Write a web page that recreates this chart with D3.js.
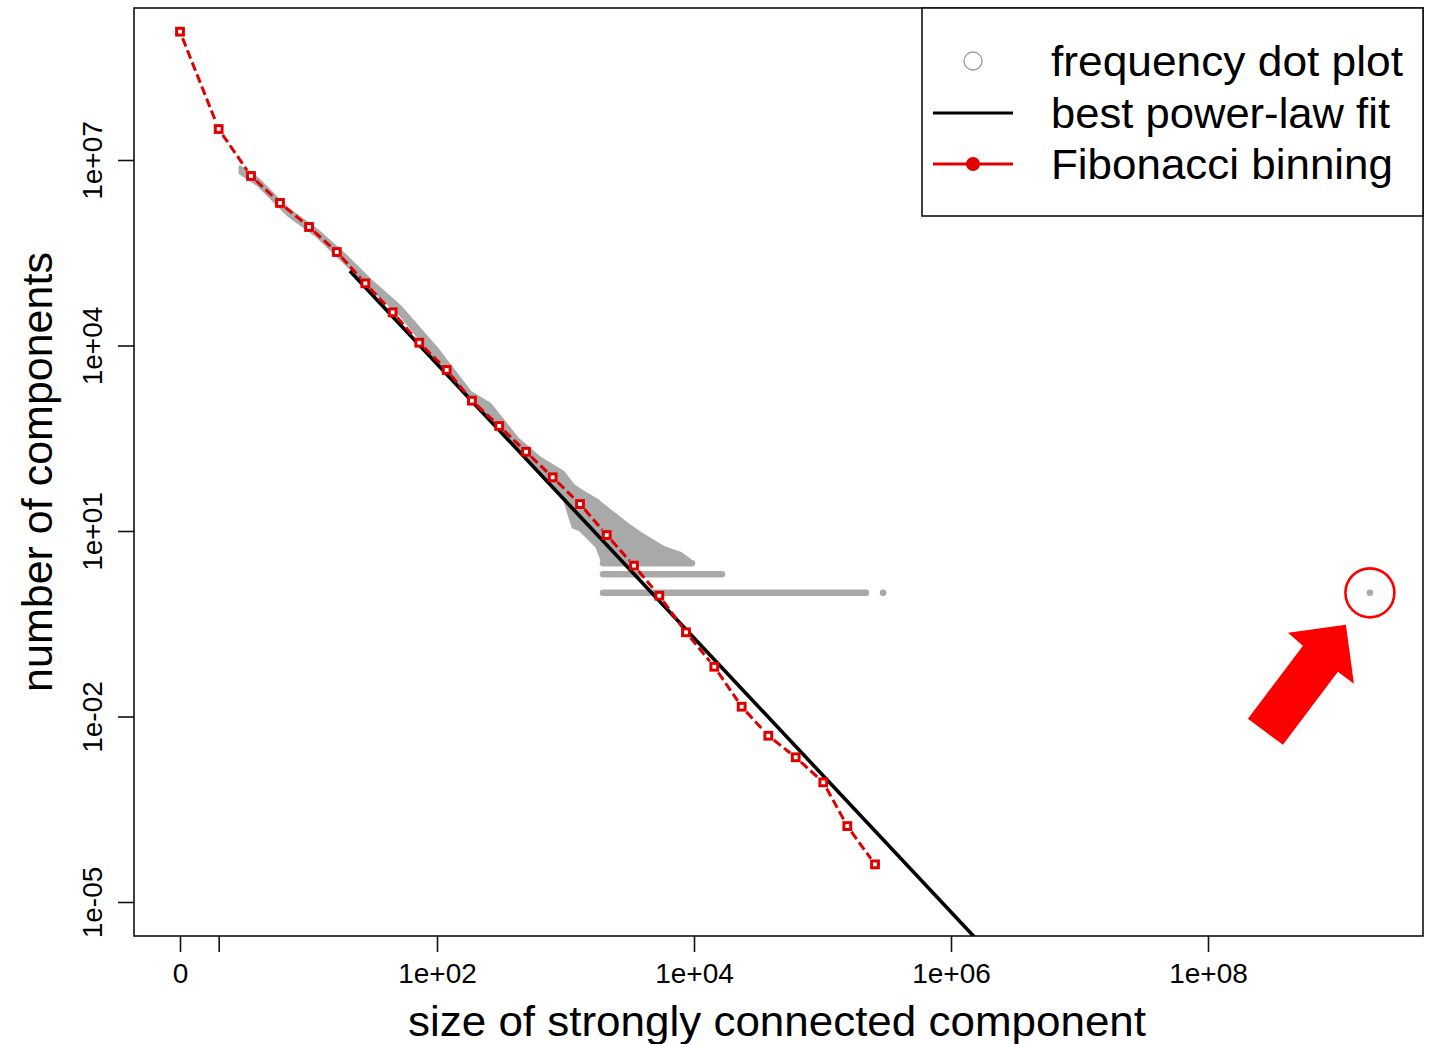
<!DOCTYPE html>
<html>
<head>
<meta charset="utf-8">
<script src="https://cdn.jsdelivr.net/npm/d3@7"></script>
<style>
  body { margin: 0; background: #fff; }
  svg { display: block; }
  text { font-family: "Liberation Sans", Arial, sans-serif; fill: #000; }
</style>
</head>
<body>
<div id="chart"></div>
<script>
// Fibonacci-binned counts (red squares)
const fibSizes = [1, 2, 3.57, 6.0, 10.1, 16.6, 27.7, 45.2, 72.8, 119, 187, 305, 493, 795, 1297,
  2093, 3412, 5370, 8664, 14390, 23500, 37870, 61850, 101400, 156000, 256200];
const fibCounts = [1.19e9, 3.17e7, 5.51e6, 2.02e6, 8.25e5, 3.25e5, 1.01e5, 3.44e4, 1.11e4, 4016, 1281,
  499, 191, 73.8, 27.3, 8.6, 2.75, 0.898, 0.230, 0.0638, 0.0144, 0.00489, 0.00219, 8.61e-4, 1.69e-4, 4.06e-5];

// frequency dot cloud: outline of the dense part (upper / lower edge per size)
const cloudSizes = [2.93, 4.05, 6.92, 11.6, 19.2, 30.1, 51.5, 100, 181, 258, 419, 634, 957, 1143, 1297,
  1758, 1958, 3177, 3802, 5737, 7780, 9310];
const cloudHigh = [7.71e6, 4.93e6, 1.61e6, 7.38e5, 2.91e5, 1.15e5, 4.30e4, 8900, 1770, 1132, 319, 151,
  89.9, 55.5, 46.0, 31.7, 26.3, 12.0, 9.27, 5.5, 4.4, 3.4];
const cloudLow = [6.17e6, 3.94e6, 1.29e6, 5.90e5, 2.16e5, 8.60e4, 3.20e4, 5800, 1313, 624, 220, 96.8,
  38.2, 11.6, 10.4, 5.51, 3, 3, 3, 3, 3, 3];

// horizontal runs of dots at small integer counts
const rowCounts = [1, 2, 3, 4];
const rowFrom = [1958, 1958, 1958, 2000];
const rowTo = [2.18e5, 16500, 9640, 7780];

// lone dots: [size, count]
const loneDots = [[2.96e5, 1], [1.82e9, 1]];
const giantIndex = 1;

// power-law fit
const fitXmin = 21, fitCountAtXmin = 1.6e5, fitAlpha = 2.216, fitXmax = 3e6;

// axes
const xTicks = [1, 2, 1e2, 1e4, 1e6, 1e8];
const xTickLabels = ["0", "", "1e+02", "1e+04", "1e+06", "1e+08"];
const yTicks = [1e7, 1e4, 1e1, 1e-2, 1e-5];
const yTickLabels = ["1e+07", "1e+04", "1e+01", "1e-02", "1e-05"];

const legendLabels = ["frequency dot plot", "best power-law fit", "Fibonacci binning"];
const legendWidths = [352, 339, 342];

const W = 1429, H = 1044;
const box = { left: 134, top: 8, right: 1423, bottom: 936 };
const grey = "#a9a9a9", red = "#e00000";

const svg = d3.select("#chart").append("svg").attr("width", W).attr("height", H);

const x = d3.scaleLog().domain([1, 1e8]).range([180, 1208]);
const y = d3.scaleLog().domain([1e7, 1e-5]).range([160, 902]);

svg.append("clipPath").attr("id", "plotclip").append("rect")
  .attr("x", box.left).attr("y", box.top)
  .attr("width", box.right - box.left).attr("height", box.bottom - box.top);

const plot = svg.append("g").attr("clip-path", "url(#plotclip)");

// grey dot cloud
const outline = cloudSizes.map((s, i) => [x(s), y(cloudHigh[i])])
  .concat(cloudSizes.map((s, i) => [x(s), y(cloudLow[i])]).reverse());
plot.append("path")
  .attr("d", d3.line()(outline) + "Z")
  .attr("fill", grey).attr("stroke", grey)
  .attr("stroke-width", 3).attr("stroke-linejoin", "round");

plot.selectAll(".row").data(rowCounts).enter().append("line")
  .attr("x1", (d, i) => x(rowFrom[i])).attr("x2", (d, i) => x(rowTo[i]))
  .attr("y1", d => y(d)).attr("y2", d => y(d))
  .attr("stroke", grey).attr("stroke-width", 6.5).attr("stroke-linecap", "round");

plot.selectAll(".lone").data(loneDots).enter().append("circle")
  .attr("cx", d => x(d[0])).attr("cy", d => y(d[1])).attr("r", 3.3).attr("fill", grey);

// power-law fit line
const fitX = [fitXmin, fitXmax];
plot.append("path")
  .attr("d", d3.line()(fitX.map(s => [x(s), y(fitCountAtXmin * Math.pow(s / fitXmin, -fitAlpha))])))
  .attr("stroke", "#000").attr("stroke-width", 3.6).attr("fill", "none");

// Fibonacci binning: dashed segments with gaps at the points (type "b")
const pts = fibSizes.map((s, i) => [x(s), y(fibCounts[i])]);
const gap = 7;
const segs = [];
for (let i = 0; i < pts.length - 1; i++) {
  const [x1, y1] = pts[i], [x2, y2] = pts[i + 1];
  const d = Math.hypot(x2 - x1, y2 - y1);
  if (d <= 2 * gap) continue;
  const ux = (x2 - x1) / d, uy = (y2 - y1) / d;
  segs.push([x1 + ux * gap, y1 + uy * gap, x2 - ux * gap, y2 - uy * gap]);
}
plot.selectAll(".seg").data(segs).enter().append("line")
  .attr("x1", d => d[0]).attr("y1", d => d[1]).attr("x2", d => d[2]).attr("y2", d => d[3])
  .attr("stroke", red).attr("stroke-width", 3).attr("stroke-dasharray", "9,4");

plot.selectAll(".sq").data(pts).enter().append("rect")
  .attr("x", d => d[0] - 3.4).attr("y", d => d[1] - 3.4)
  .attr("width", 6.8).attr("height", 6.8)
  .attr("fill", "#fff").attr("stroke", red).attr("stroke-width", 3);

// plot frame
svg.append("rect")
  .attr("x", box.left).attr("y", box.top)
  .attr("width", box.right - box.left).attr("height", box.bottom - box.top)
  .attr("fill", "none").attr("stroke", "#111").attr("stroke-width", 1.6);

// x axis
const xAxis = svg.append("g").attr("transform", `translate(0,${box.bottom})`)
  .call(d3.axisBottom(x).tickValues(xTicks).tickFormat((d, i) => xTickLabels[i])
    .tickSize(16).tickPadding(11));
xAxis.select(".domain").remove();
xAxis.selectAll(".tick line").attr("stroke", "#111").attr("stroke-width", 1.6);
xAxis.selectAll(".tick text").attr("font-size", 28).attr("fill", "#000")
  .style("font-family", "'Liberation Sans', Arial, sans-serif");

// y axis (labels rotated, R style)
const yAxis = svg.append("g").attr("transform", `translate(${box.left},0)`)
  .call(d3.axisLeft(y).tickValues(yTicks).tickFormat((d, i) => yTickLabels[i]).tickSize(16));
yAxis.select(".domain").remove();
yAxis.selectAll(".tick line").attr("stroke", "#111").attr("stroke-width", 1.6);
yAxis.selectAll(".tick text")
  .attr("x", null).attr("dy", "0.35em")
  .attr("transform", "translate(-42,0) rotate(-90)")
  .attr("text-anchor", "middle").attr("font-size", 28).attr("fill", "#000")
  .style("font-family", "'Liberation Sans', Arial, sans-serif");

// axis titles
svg.append("text").attr("x", 777).attr("y", 1036).attr("text-anchor", "middle")
  .attr("font-size", 43).attr("textLength", 738).attr("lengthAdjust", "spacingAndGlyphs")
  .text("size of strongly connected component");
svg.append("text").attr("transform", "translate(52,472) rotate(-90)").attr("text-anchor", "middle")
  .attr("font-size", 43).text("number of components");

// legend
const lg = svg.append("g");
lg.append("rect").attr("x", 922).attr("y", box.top).attr("width", box.right - 922).attr("height", 208)
  .attr("fill", "#fff").attr("stroke", "#111").attr("stroke-width", 1.6);
const rowY = [61, 113, 164];
lg.append("circle").attr("cx", 973).attr("cy", rowY[0]).attr("r", 9)
  .attr("fill", "none").attr("stroke", "#9a9a9a").attr("stroke-width", 1.3);
lg.append("line").attr("x1", 933).attr("x2", 1013).attr("y1", rowY[1]).attr("y2", rowY[1])
  .attr("stroke", "#000").attr("stroke-width", 3);
lg.append("line").attr("x1", 933).attr("x2", 1013).attr("y1", rowY[2]).attr("y2", rowY[2])
  .attr("stroke", red).attr("stroke-width", 3);
lg.append("circle").attr("cx", 973).attr("cy", rowY[2]).attr("r", 7).attr("fill", red);
lg.selectAll(".lt").data(legendLabels).enter().append("text")
  .attr("x", 1051).attr("y", (d, i) => rowY[i] + 15)
  .attr("font-size", 42)
  .attr("textLength", (d, i) => legendWidths[i]).attr("lengthAdjust", "spacingAndGlyphs")
  .text(d => d);

// annotation: circle and arrow pointing at the giant component
const gx = x(loneDots[giantIndex][0]), gy = y(loneDots[giantIndex][1]);
svg.append("circle").attr("cx", gx).attr("cy", gy).attr("r", 24.5)
  .attr("fill", "none").attr("stroke", "#ff0000").attr("stroke-width", 2.6);
const arrow = [[-24, 32], [-16, 91], [-32, 79], [-87, 152], [-122, 126], [-67, 53], [-82, 40]];
svg.append("polygon")
  .attr("points", arrow.map(p => [gx + p[0], gy + p[1]].join(",")).join(" "))
  .attr("fill", "#ff0000");
</script>
</body>
</html>
